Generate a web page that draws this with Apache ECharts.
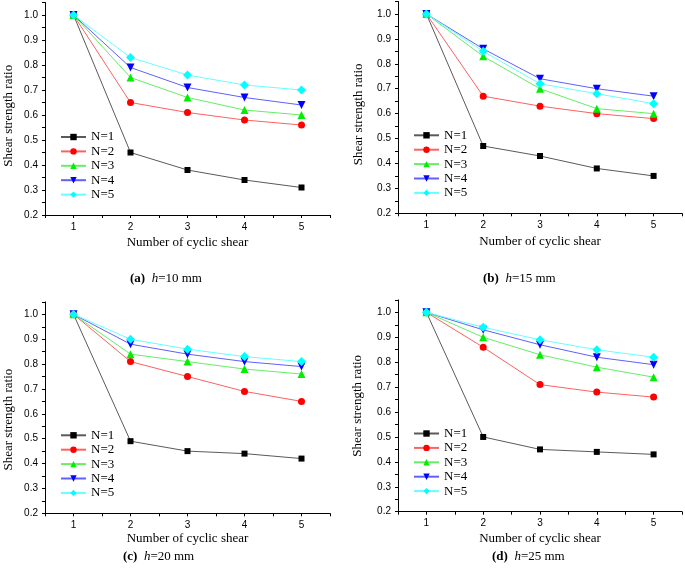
<!DOCTYPE html>
<html>
<head>
<meta charset="utf-8">
<script src="https://cdn.jsdelivr.net/npm/echarts@6/dist/echarts.min.js"></script>
<style>html,body{margin:0;padding:0;background:#fff}#c{width:685px;height:574px}</style>
</head>
<body>
<div id="c"></div>
<script>
// ---- data ----
var cycles = [1, 2, 3, 4, 5];
var seriesNames = ['N=1', 'N=2', 'N=3', 'N=4', 'N=5'];
var captions = ['(a)|10', '(b)|15', '(c)|20', '(d)|25'];

var a_N1 = [1.00, 0.45, 0.38, 0.34, 0.31];
var a_N2 = [1.00, 0.65, 0.61, 0.58, 0.56];
var a_N3 = [1.00, 0.75, 0.67, 0.62, 0.60];
var a_N4 = [1.00, 0.79, 0.71, 0.67, 0.64];
var a_N5 = [1.00, 0.83, 0.76, 0.72, 0.70];

var b_N1 = [1.00, 0.47, 0.43, 0.38, 0.35];
var b_N2 = [1.00, 0.67, 0.63, 0.60, 0.58];
var b_N3 = [1.00, 0.83, 0.70, 0.62, 0.60];
var b_N4 = [1.00, 0.86, 0.74, 0.70, 0.67];
var b_N5 = [1.00, 0.85, 0.72, 0.68, 0.64];

var c_N1 = [1.00, 0.49, 0.45, 0.44, 0.42];
var c_N2 = [1.00, 0.81, 0.75, 0.69, 0.65];
var c_N3 = [1.00, 0.84, 0.81, 0.78, 0.76];
var c_N4 = [1.00, 0.88, 0.84, 0.81, 0.79];
var c_N5 = [1.00, 0.90, 0.86, 0.83, 0.81];

var d_N1 = [1.00, 0.50, 0.45, 0.44, 0.43];
var d_N2 = [1.00, 0.86, 0.71, 0.68, 0.66];
var d_N3 = [1.00, 0.90, 0.83, 0.78, 0.74];
var d_N4 = [1.00, 0.93, 0.87, 0.82, 0.79];
var d_N5 = [1.00, 0.94, 0.89, 0.85, 0.82];

var panels = [
  [a_N1, a_N2, a_N3, a_N4, a_N5],
  [b_N1, b_N2, b_N3, b_N4, b_N5],
  [c_N1, c_N2, c_N3, c_N4, c_N5],
  [d_N1, d_N2, d_N3, d_N4, d_N5]
];

// ---- styles ----
var lineColors = ['#5a5a5a', '#ff6060', '#66ee66', '#6060ff', '#66ffff'];
var markColors = ['#000000', '#ff0000', '#00ee00', '#0000ff', '#00ffff'];
var symbols = ['rect', 'circle', 'triangle', 'triangle', 'diamond'];
var symRot = [0, 0, 0, 180, 0];
var symSize = [6, 7, 8, 8, 9];

var serif = 'Liberation Serif';
var sans = 'Liberation Sans';

var grids = [
  {left: 45, right: 355, top: 2.5, bottom: 359},
  {left: 398, right: 1.4, top: 1.5, bottom: 360.7},
  {left: 45, right: 355, top: 301.9, bottom: 60.7},
  {left: 398, right: 1.4, top: 299.9, bottom: 62.3}
];
var yNameGap = [30, 33, 30, 34];
var yNameShift = [14, 14, 24, 0];
var xNameGap = [21, 22, 19, 20];
var legendPos = [
  {left: 60, top: 130.5},
  {left: 413, top: 128.8},
  {left: 60, top: 428.8},
  {left: 413, top: 427}
];
var capPos = [[130, 280], [483, 280], [123, 558], [492, 558]];

var xAxes = [], yAxes = [], series = [], legends = [], graphics = [];
panels.forEach(function (pd, k) {
  xAxes.push({
    type: 'value', gridIndex: k, min: 0.5, max: 5.5, interval: 0.5,
    name: 'Number of cyclic shear', nameLocation: 'middle', nameGap: xNameGap[k],
    nameTextStyle: {fontFamily: serif, fontSize: 13, color: '#000'},
    axisLine: {show: true, onZero: false, lineStyle: {color: '#000', width: 1}},
    axisTick: {show: true, inside: false, length: 3, lineStyle: {color: '#000'}},
    axisLabel: {
      margin: 7, fontFamily: sans, fontSize: 10, color: '#000',
      formatter: function (v) { return Math.abs(v - Math.round(v)) < 1e-6 ? String(Math.round(v)) : ''; }
    },
    splitLine: {show: false}
  });
  yAxes.push({
    type: 'value', gridIndex: k, min: 0.2, max: 1.05, interval: 0.05,
    name: 'Shear strength ratio', nameLocation: 'middle', nameGap: yNameGap[k],
    nameTextStyle: {fontFamily: serif, fontSize: 13, color: '#000', padding: [0, yNameShift[k], 0, 0]},
    axisLine: {show: true, onZero: false, lineStyle: {color: '#000', width: 1}},
    axisTick: {show: true, inside: false, length: 3, lineStyle: {color: '#000'}},
    axisLabel: {
      margin: 7, fontFamily: sans, fontSize: 10, color: '#000',
      formatter: function (v) {
        var t = Math.round(v * 100);
        return (t % 10 === 0 && v <= 1.0001) ? (t / 100).toFixed(1) : '';
      }
    },
    splitLine: {show: false}
  });
  pd.forEach(function (vals, i) {
    series.push({
      type: 'line', name: seriesNames[i], xAxisIndex: k, yAxisIndex: k,
      data: cycles.map(function (c, j) { return [c, vals[j]]; }),
      symbol: symbols[i], symbolRotate: symRot[i], symbolSize: symSize[i],
      showAllSymbol: true,
      lineStyle: {color: lineColors[i], width: 1},
      itemStyle: {color: markColors[i]},
      emphasis: {disabled: true},
      animation: false, z: 2 + i
    });
  });
  legends.push({
    orient: 'vertical', left: legendPos[k].left, top: legendPos[k].top,
    padding: 0, itemWidth: 25, itemHeight: 8, itemGap: 1.4,
    data: seriesNames,
    textStyle: {fontFamily: serif, fontSize: 13, color: '#000'},
    selectedMode: false
  });
  var parts = captions[k].split('|');
  graphics.push({
    type: 'text', left: capPos[k][0], top: capPos[k][1] - 8,
    style: {
      text: '{b|' + parts[0] + '}  {i|h}=' + parts[1] + ' mm',
      fontFamily: serif, fontSize: 13, fill: '#000',
      rich: {
        b: {fontFamily: serif, fontSize: 13, fontWeight: 'bold'},
        i: {fontFamily: serif, fontSize: 13, fontStyle: 'italic'}
      }
    }
  });
});

var chart = echarts.init(document.getElementById('c'), null, {renderer: 'canvas'});
chart.setOption({
  animation: false,
  backgroundColor: '#fff',
  grid: grids.map(function (g) { return Object.assign({containLabel: false}, g); }),
  xAxis: xAxes,
  yAxis: yAxes,
  legend: legends,
  series: series,
  graphic: graphics
});
</script>
</body>
</html>
